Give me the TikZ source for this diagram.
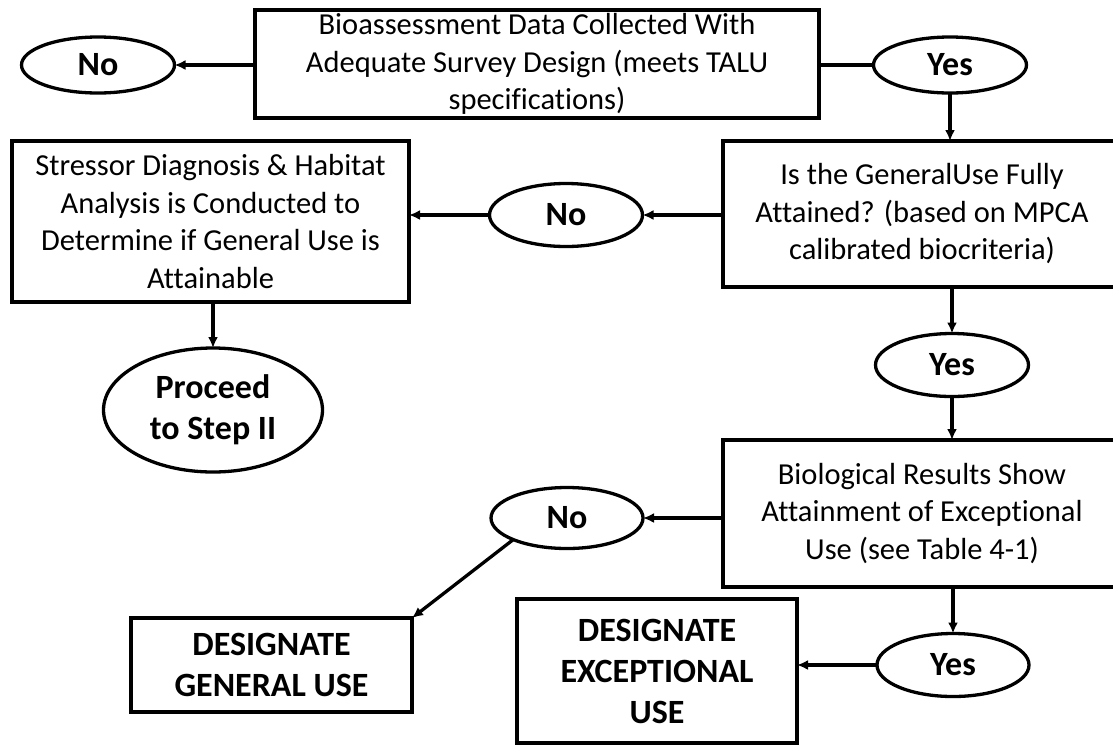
\documentclass[tikz,border=0pt]{standalone}
\usepackage{fontspec}
\setmainfont[Ligatures=NoCommon]{Carlito}
\usepackage{tikz}
\usetikzlibrary{shapes,shapes.geometric}
\usetikzlibrary{arrows.meta}
\newcommand{\flowfont}{\fontsize{30.5}{37.5}\selectfont}
\newcommand{\answerfont}{\fontsize{34}{41}\selectfont\bfseries}
\tikzset{
	flowbox/.style={draw,line width=3.3pt,rectangle,align=center,inner sep=0pt,outer sep=0pt,font=\flowfont},
	boldbox/.style={flowbox,font=\answerfont},
	answer/.style={draw,line width=3.3pt,ellipse,align=center,inner sep=0pt,outer sep=0pt,font=\answerfont},
	flowarrow/.style={line width=3.3pt,-{Latex[length=11pt,width=10pt]}}
}

\begin{document}
\begin{tikzpicture}[x=1pt,y=-1pt]
			\useasboundingbox (0,0) rectangle (1113,745);
			\node[flowbox,minimum width=564pt,minimum height=108pt] (data) at (537,64) {Bioassessment Data Collected With\\Adequate Survey Design (meets TALU\\specifications)};
			\node[flowbox,minimum width=398pt,minimum height=146pt] (general) at (922,214) {Is the GeneralUse Fully\\Attained? (based on MPCA\\calibrated biocriteria)};
			\node[flowbox,minimum width=397pt,minimum height=161pt] (stressor) at (210.5,221.5) {Stressor Diagnosis \& Habitat\\Analysis is Conducted to\\Determine if General Use is\\Attainable};
			\node[flowbox,minimum width=398pt,minimum height=147pt] (bio) at (922,513.5) {Biological Results Show\\Attainment of Exceptional\\Use (see Table 4-1)};
			\node[boldbox,minimum width=281pt,minimum height=94pt] (desgen) at (271.5,665) {DESIGNATE\\GENERAL USE};
			\node[boldbox,minimum width=280pt,minimum height=144pt] (desexc) at (657,671) {DESIGNATE\\EXCEPTIONAL\\USE};
	
			\node[answer,minimum width=153pt,minimum height=56pt] (notop) at (98,65) {No};
			\node[answer,minimum width=153pt,minimum height=56pt] (yestop) at (950,65) {Yes};
			\node[answer,minimum width=153pt,minimum height=63pt] (nomid) at (566,215) {No};
			\node[answer,minimum width=153pt,minimum height=63pt] (yesmid) at (952,365) {Yes};
			\node[answer,minimum width=219pt,minimum height=124pt] (proceed) at (213,410) {Proceed\\to Step II};
			\node[answer,minimum width=152pt,minimum height=61pt] (nolow) at (567,518) {No};
			\node[answer,minimum width=152pt,minimum height=63pt] (yeslow) at (953,665) {Yes};
	
			\draw[flowarrow] (data.west |- notop.east) -- (notop.east);
			\draw[line width=3.3pt] (data.east |- yestop.west) -- (yestop.west);
			\draw[flowarrow] (yestop.south) -- (yestop.south |- general.north);
			\draw[flowarrow] (general.west |- nomid.east) -- (nomid.east);
			\draw[flowarrow] (nomid.west) -- (nomid.west -| stressor.east);
			\draw[flowarrow] (proceed.north |- stressor.south) -- (proceed.north);
			\draw[flowarrow] (yesmid.north |- general.south) -- (yesmid.north);
			\draw[flowarrow] (yesmid.south) -- (yesmid.south |- bio.north);
			\draw[flowarrow] (bio.west |- nolow.east) -- (nolow.east);
			\draw[flowarrow] (nolow.south west) -- (desgen.north east);
			\draw[flowarrow] (yeslow.north |- bio.south) -- (yeslow.north);
			\draw[flowarrow] (yeslow.west) -- (yeslow.west -| desexc.east);
		\end{tikzpicture}
\end{document}
